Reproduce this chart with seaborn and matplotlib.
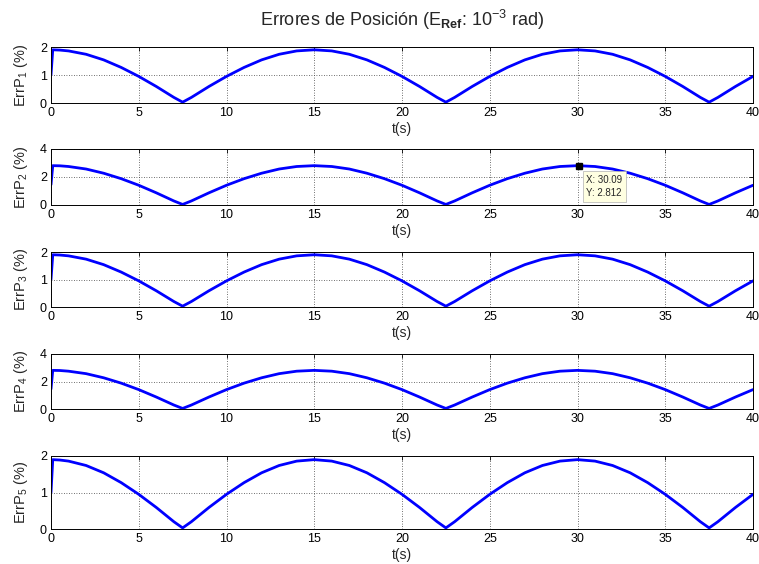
import matplotlib
matplotlib.use("Agg")
import matplotlib.pyplot as plt
import seaborn as sns
import pandas as pd

# Sample times (s) and position errors (%) of each joint
t = [0, 0.1, 0.5, 1, 2, 3, 4, 5, 6, 7, 7.5, 8, 9, 10, 11, 12, 13, 14, 15,
     16, 17, 18, 19, 20, 21, 22, 22.5, 23, 24, 25, 26, 27, 28, 29, 30,
     31, 32, 33, 34, 35, 36, 37, 37.5, 38, 39, 40]

err_p1 = [1.00, 1.90, 1.89, 1.86, 1.74, 1.54, 1.27, 0.95, 0.59, 0.20, 0.03, 0.20,
          0.59, 0.95, 1.27, 1.54, 1.74, 1.86, 1.90, 1.86, 1.74, 1.54, 1.27, 0.95,
          0.59, 0.20, 0.03, 0.20, 0.59, 0.95, 1.27, 1.54, 1.74, 1.86, 1.90,
          1.86, 1.74, 1.54, 1.27, 0.95, 0.59, 0.20, 0.03, 0.20, 0.59, 0.95]
err_p2 = [1.45, 2.81, 2.80, 2.75, 2.57, 2.27, 1.88, 1.41, 0.87, 0.29, 0.04, 0.29,
          0.87, 1.41, 1.88, 2.27, 2.57, 2.75, 2.81, 2.75, 2.57, 2.27, 1.88, 1.41,
          0.87, 0.29, 0.04, 0.29, 0.87, 1.41, 1.88, 2.27, 2.57, 2.75, 2.81,
          2.75, 2.57, 2.27, 1.88, 1.41, 0.87, 0.29, 0.04, 0.29, 0.87, 1.41]
err_p3 = [1.00, 1.90, 1.89, 1.86, 1.74, 1.54, 1.27, 0.95, 0.59, 0.20, 0.03, 0.20,
          0.59, 0.95, 1.27, 1.54, 1.74, 1.86, 1.90, 1.86, 1.74, 1.54, 1.27, 0.95,
          0.59, 0.20, 0.03, 0.20, 0.59, 0.95, 1.27, 1.54, 1.74, 1.86, 1.90,
          1.86, 1.74, 1.54, 1.27, 0.95, 0.59, 0.20, 0.03, 0.20, 0.59, 0.95]
err_p4 = [1.45, 2.81, 2.80, 2.75, 2.57, 2.27, 1.88, 1.41, 0.87, 0.29, 0.04, 0.29,
          0.87, 1.41, 1.88, 2.27, 2.57, 2.75, 2.81, 2.75, 2.57, 2.27, 1.88, 1.41,
          0.87, 0.29, 0.04, 0.29, 0.87, 1.41, 1.88, 2.27, 2.57, 2.75, 2.81,
          2.75, 2.57, 2.27, 1.88, 1.41, 0.87, 0.29, 0.04, 0.29, 0.87, 1.41]
err_p5 = [1.00, 1.90, 1.89, 1.86, 1.74, 1.54, 1.27, 0.95, 0.59, 0.20, 0.03, 0.20,
          0.59, 0.95, 1.27, 1.54, 1.74, 1.86, 1.90, 1.86, 1.74, 1.54, 1.27, 0.95,
          0.59, 0.20, 0.03, 0.20, 0.59, 0.95, 1.27, 1.54, 1.74, 1.86, 1.90,
          1.86, 1.74, 1.54, 1.27, 0.95, 0.59, 0.20, 0.03, 0.20, 0.59, 0.95]

series = [err_p1, err_p2, err_p3, err_p4, err_p5]
y_limits = [2, 4, 2, 4, 2]
y_ticks = [[0, 1, 2], [0, 2, 4], [0, 1, 2], [0, 2, 4], [0, 1, 2]]
x_ticks = [0, 5, 10, 15, 20, 25, 30, 35, 40]

# Data tip on joint 2
tip_x, tip_y = 30.09, 2.812

sns.set_theme(style="white")
plt.rcParams["font.family"] = ["Liberation Sans", "DejaVu Sans"]
plt.rcParams["mathtext.fontset"] = "custom"
plt.rcParams["mathtext.rm"] = "Liberation Sans"
plt.rcParams["mathtext.it"] = "Liberation Sans"
plt.rcParams["mathtext.bf"] = "Liberation Sans:bold"

W, H = 759, 564
fig = plt.figure(figsize=(W / 100, H / 100), dpi=100)
fig.patch.set_facecolor("white")

# axes boxes in pixels: (top, bottom)
boxes = [(47, 103), (149, 205), (252, 307), (354, 409), (456, 529)]
left_px, right_px = 51, 753

axes = []
for i, (top, bot) in enumerate(boxes):
    ax = fig.add_axes([left_px / W, 1 - bot / H, (right_px - left_px) / W, (bot - top) / H])
    df = pd.DataFrame({"t": t, "err": series[i]})
    sns.lineplot(data=df, x="t", y="err", ax=ax, color="#0000ff", linewidth=2.0)
    ax.set_xlim(0, 40)
    ax.set_ylim(0, y_limits[i])
    ax.set_xticks(x_ticks)
    ax.set_yticks(y_ticks[i])
    ax.grid(True, linestyle=(0, (1, 2)), color="#404040", linewidth=0.6)
    ax.tick_params(direction="in", top=True, right=True, length=3, width=0.6,
                   labelsize=9, colors="black", pad=3)
    for s in ax.spines.values():
        s.set_color("black")
        s.set_linewidth(0.7)
    ax.set_xlabel("t(s)", fontsize=10, labelpad=2)
    ax.set_ylabel(r"ErrP$_{%d}$ (%%)" % (i + 1), fontsize=10.5, labelpad=7)
    axes.append(ax)

ax2 = axes[1]
ax2.plot([tip_x], [tip_y], marker="s", color="black", markersize=5, zorder=5)
ax2.annotate("X: 30.09\nY: 2.812", xy=(tip_x, tip_y), xytext=(7, -9),
             textcoords="offset pixels", ha="left", va="top", fontsize=7,
             linespacing=1.45,
             bbox=dict(boxstyle="square,pad=0.35", facecolor="#ffffe1",
                       edgecolor="#b0b0b0", linewidth=0.5), zorder=6)

fig.text(402 / W, 1 - 20 / H,
         r"Errores de Posición (E$_{\mathbf{Ref}}$: 10$^{-3}$ rad)",
         ha="center", va="center", fontsize=13)

fig.savefig("out.png", dpi=100)
